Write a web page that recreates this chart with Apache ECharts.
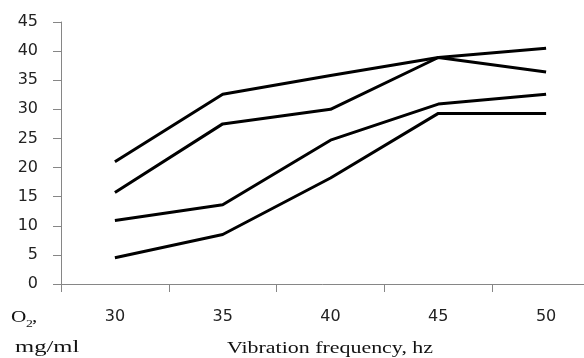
<!DOCTYPE html>
<html><head><meta charset="utf-8">
<script src="https://cdn.jsdelivr.net/npm/echarts@6/dist/echarts.min.js"></script>
<style>html,body{margin:0;padding:0;background:#fff}#c{width:584px;height:358px}</style>
</head><body><div id="c"></div>
<script>
const categories = ['30','35','40','45','50'];
const seriesA = [21, 32.6, 35.8, 38.9, 40.5];
const seriesB = [15.7, 27.5, 30.0, 38.9, 36.4];
const seriesC = [10.9, 13.6, 24.7, 30.9, 32.6];
const seriesD = [4.5, 8.5, 18.2, 29.3, 29.3];
const yTicks = {min: 0, max: 45, interval: 5};

const chart = echarts.init(document.getElementById('c'), null, {renderer: 'canvas'});
const mk = (d) => ({type: 'line', data: d, symbol: 'none', lineStyle: {color: '#000', width: 3}, animation: false});
const txt = (t, x, y, size, sx) => ({type: 'text', x: x, y: y, scaleX: sx, style: {text: t, font: size + 'px "Liberation Serif"', fill: '#111', verticalAlign: 'top'}});
chart.setOption({
  animation: false,
  grid: {left: 61, top: 22, width: 539, height: 262, containLabel: false, outerBoundsMode: 'none'},
  xAxis: {
    type: 'category', data: categories, boundaryGap: true,
    axisLine: {lineStyle: {color: '#868686', width: 1}},
    axisTick: {show: true, length: 8, lineStyle: {color: '#868686'}},
    axisLabel: {color: '#222', fontFamily: 'DejaVu Sans', fontSize: 16, margin: 25}
  },
  yAxis: {
    type: 'value', min: yTicks.min, max: yTicks.max, interval: yTicks.interval,
    splitLine: {show: false},
    axisLine: {show: true, lineStyle: {color: '#868686', width: 1}},
    axisTick: {show: true, length: 8, lineStyle: {color: '#868686'}},
    axisLabel: {color: '#222', fontFamily: 'DejaVu Sans', fontSize: 16, margin: 23}
  },
  graphic: [
    txt('O', 11, 309, 17, 1.25),
    txt('2', 26, 319, 11, 1.25),
    txt(',', 32, 309, 17, 1.25),
    txt('mg/ml', 15, 339, 17, 1.45),
    txt('Vibration frequency, hz', 227, 341, 16, 1.37)
  ],
  series: [mk(seriesA), mk(seriesB), mk(seriesC), mk(seriesD)]
});
</script></body></html>
